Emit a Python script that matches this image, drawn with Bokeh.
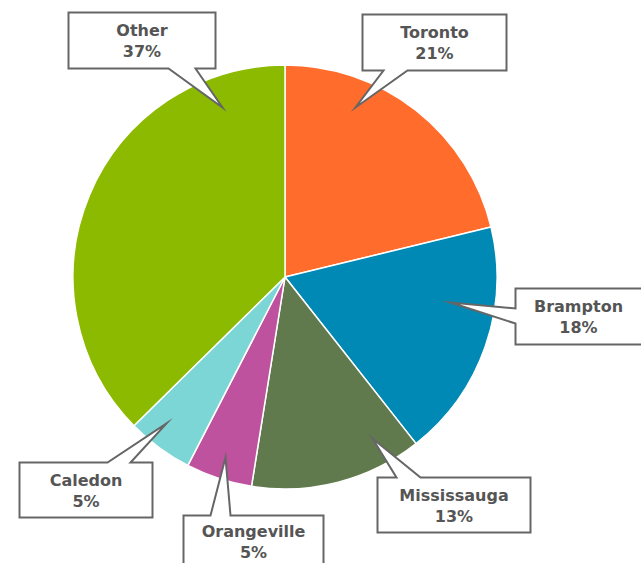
import numpy as np
from bokeh.plotting import figure
from bokeh.models import Range1d, ColumnDataSource
from bokeh.core.properties import value
from bokeh.embed import file_html
from bokeh.resources import INLINE

# ---- data ----
cities = ["Toronto", "Brampton", "Mississauga", "Orangeville", "Caledon", "Other"]
shares = [21, 18, 13, 5, 5, 37]
labels = ["21%", "18%", "13%", "5%", "5%", "37%"]
colors = ["#FF6C2B", "#0089B4", "#607A4D", "#BF529F", "#7CD6D6", "#8CBA00"]

# ---- layout (screen pixel coordinates) ----
CX, CY, R = 284.5, 276.5, 212
callouts = {
    "Toronto":     dict(box=(362, 14, 506, 70),  side="bottom", base=(383, 407), tip=(355, 107)),
    "Brampton":    dict(box=(515, 288, 660, 344), side="left",  base=(308, 323), tip=(450, 302)),
    "Mississauga": dict(box=(377, 477, 530, 532), side="top",   base=(396, 420), tip=(372, 438)),
    "Orangeville": dict(box=(183, 515, 323, 590), side="top",   base=(210, 230), tip=(225, 457)),
    "Caledon":     dict(box=(19, 462, 152, 517),  side="top",   base=(107, 130), tip=(166, 423)),
    "Other":       dict(box=(68, 12, 215, 68),    side="bottom", base=(168, 195), tip=(222, 107)),
}

W, H = 641, 563
p = figure(width=W, height=H, output_backend="svg", toolbar_location=None,
           x_range=Range1d(0, W), y_range=Range1d(-H, 0),
           min_border=0)
p.axis.visible = False
p.grid.visible = False
p.outline_line_color = None
p.background_fill_color = "white"
p.border_fill_color = "white"

fr = np.array(shares, dtype=float) / sum(shares)
cum = np.concatenate([[0], np.cumsum(fr)])
start = np.pi / 2 - 2 * np.pi * cum[:-1]
end = np.pi / 2 - 2 * np.pi * cum[1:]
src = ColumnDataSource(dict(x=[CX] * len(cities), y=[-CY] * len(cities),
                            start=start, end=end, color=colors))
p.wedge(x="x", y="y", radius=R, start_angle="start", end_angle="end",
        direction="clock", fill_color="color", line_color="white", line_width=1.5,
        source=src)

xs, ys, tx, ty, tt = [], [], [], [], []
for name, lab in zip(cities, labels):
    c = callouts[name]
    l, t, r, b = c["box"]
    bx0, bx1 = c["base"]
    tipx, tipy = c["tip"]
    if c["side"] == "bottom":
        pts = [(l, t), (r, t), (r, b), (bx1, b), (tipx, tipy), (bx0, b), (l, b)]
    elif c["side"] == "top":
        pts = [(l, t), (bx0, t), (tipx, tipy), (bx1, t), (r, t), (r, b), (l, b)]
    else:  # left
        pts = [(l, t), (r, t), (r, b), (l, b), (l, bx1), (tipx, tipy), (l, bx0)]
    xs.append([q[0] for q in pts])
    ys.append([-q[1] for q in pts])
    cx = (l + r) / 2 if name != "Brampton" else 578
    cy = (t + b) / 2 if name != "Orangeville" else 541
    tx += [cx, cx]
    ty += [-(cy - 10), -(cy + 11)]
    tt += [name, lab]

p.patches(xs, ys, fill_color="white", line_color="#666666", line_width=2,
          line_join="miter")
p.text(x=tx, y=ty, text=tt, text_align="center", text_baseline="middle",
       text_font=value("DejaVu Sans"), text_font_style="bold",
       text_font_size="16px", text_color="#555555")

open("out.html", "w").write(file_html(p, INLINE))
